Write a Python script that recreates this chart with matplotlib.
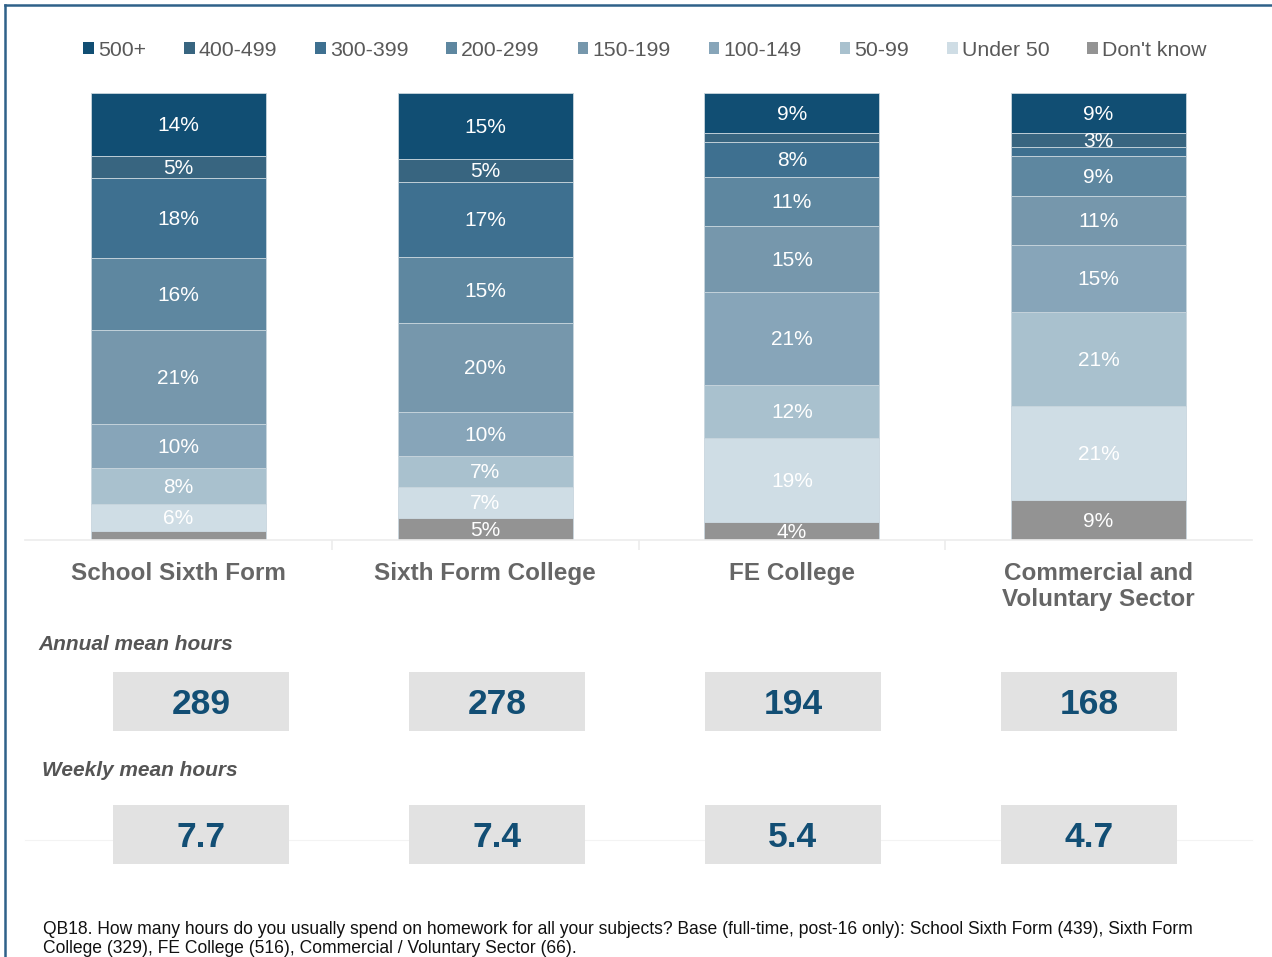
import matplotlib.pyplot as plt
from matplotlib.patches import Patch, Rectangle
from matplotlib.lines import Line2D

plt.rcParams['font.family'] = ['Liberation Sans', 'DejaVu Sans']

# Data (percent per hours band, top band first)
categories = ['School Sixth Form', 'Sixth Form College', 'FE College',
              'Commercial and\nVoluntary Sector']
bands = ['500+', '400-499', '300-399', '200-299', '150-199',
         '100-149', '50-99', 'Under 50', "Don't know"]
school_sixth = [14, 5, 18, 16, 21, 10, 8, 6, 2]
sixth_college = [15, 5, 17, 15, 20, 10, 7, 7, 5]
fe_college = [9, 2, 8, 11, 15, 21, 12, 19, 4]
commercial = [9, 3, 2, 9, 11, 15, 21, 21, 9]
annual_hours = ['289', '278', '194', '168']
weekly_hours = ['7.7', '7.4', '5.4', '4.7']

band_colors = ['#114e73', '#386580', '#3e7090', '#5e87a0', '#7697ac',
               '#87a5b9', '#a9c1ce', '#cfdde5', '#939393']

fig = plt.figure(figsize=(12.72, 9.57), dpi=100)
W, H = 1272, 957
ax = fig.add_axes([25 / W, 1 - 540 / H, 1227 / W, 447 / H])

series = [school_sixth, sixth_college, fe_college, commercial]
bar_w = 0.57
for i, vals in enumerate(series):
    total = sum(vals)
    # stacked from the bottom: Don't know first, 500+ on top
    bottom = 0
    for j in reversed(range(len(bands))):
        h = vals[j] * 100 / total
        ax.bar(i, h, bar_w, bottom=bottom, color=band_colors[j],
               edgecolor='#c9d6de', linewidth=0.6)
        if vals[j] >= 3:
            ax.text(i, bottom + h / 2 - 0.3, f'{vals[j]}%', ha='center', va='center',
                    color='white', fontsize=15)
        bottom += h

ax.set_xlim(-0.5, 3.5)
ax.set_ylim(0, 100)
ax.set_yticks([])
for s in ['top', 'right', 'left']:
    ax.spines[s].set_visible(False)
ax.spines['bottom'].set_color('#ececec')
ax.spines['bottom'].set_linewidth(1.2)
ax.set_xticks(range(4))
ax.set_xticklabels(categories, fontsize=17.5, fontweight='bold', color='#666666')
ax.tick_params(axis='x', which='major', length=0, pad=15.5)
ax.set_xticks([0.5, 1.5, 2.5], minor=True)
ax.tick_params(axis='x', which='minor', length=7, color='#ececec', width=1.2)

# legend
handles = [Patch(facecolor=c, edgecolor='none') for c in band_colors]
fig.legend(handles, bands, loc='center', bbox_to_anchor=(645 / W, 1 - 50 / H),
           ncol=9, frameon=False, fontsize=15.3, labelcolor='#595959',
           handlelength=0.5, handleheight=0.5, handletextpad=0.2,
           columnspacing=1.78)

# mean hours boxes
box_cx = [201, 497, 793, 1089]
box_w, box_h = 176, 59
rows = [('Annual mean hours', 38, 644, annual_hours, 701.5),
        ('Weekly mean hours', 42, 771, weekly_hours, 834.5)]
for title, tx, ty, vals, cy in rows:
    fig.text(tx / W, 1 - ty / H, title, fontsize=15, fontweight='bold',
             fontstyle='italic', color='#555555', va='center', ha='left')
    for cx, v in zip(box_cx, vals):
        fig.add_artist(Rectangle(((cx - box_w / 2) / W, 1 - (cy + box_h / 2) / H),
                                 box_w / W, box_h / H, transform=fig.transFigure,
                                 facecolor='#e2e2e2', edgecolor='none'))
        fig.text(cx / W, 1 - (cy + 3) / H, v, fontsize=25.5, fontweight='bold',
                 color='#124e74', ha='center', va='center')

# faint divider behind the weekly boxes
fig.add_artist(Line2D([25 / W, 1252 / W], [1 - 840 / H, 1 - 840 / H],
                      color='#f3f3f3', lw=0.8, transform=fig.transFigure, zorder=0))

# footnote
fig.text(43 / W, 1 - 939 / H,
         'QB18. How many hours do you usually spend on homework for all your subjects? '
         'Base (full-time, post-16 only): School Sixth Form (439), Sixth Form\n'
         'College (329), FE College (516), Commercial / Voluntary Sector (66).',
         fontsize=12.65, color='#111111', ha='left', va='center', linespacing=1.13)

# frame lines (left and top)
frame_c = '#2f6189'
fig.add_artist(Line2D([5 / W, 5 / W], [0, 1 - 5 / H], color=frame_c, lw=1.8,
                      transform=fig.transFigure))
fig.add_artist(Line2D([5 / W, 1], [1 - 5 / H, 1 - 5 / H], color=frame_c, lw=1.8,
                      transform=fig.transFigure))

fig.savefig('out.png', dpi=100)
